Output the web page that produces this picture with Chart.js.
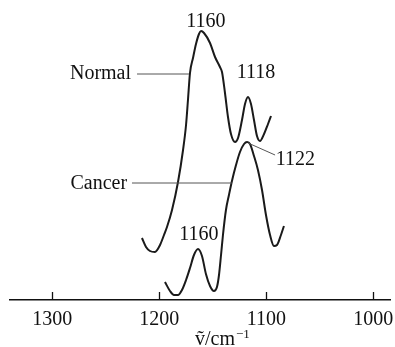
<!DOCTYPE html>
<html>
<head>
<meta charset="utf-8">
<script src="https://cdn.jsdelivr.net/npm/chart.js@4/dist/chart.umd.min.js"></script>
<style>
  html, body { margin: 0; padding: 0; background: #fff; }
  #wrap { width: 395px; height: 347px; }
</style>
</head>
<body>
<div id="wrap"><canvas id="ir"></canvas></div>
<script>
/* DATA (wavenumber cm-1, relative absorbance) */
const tickValues = [1300, 1200, 1100, 1000];

const normalWn = [1216.2, 1212.4, 1208.7, 1204.0, 1199.3, 1195.6, 1192.8, 1188.1, 1182.5, 1177.8,
  1175.0, 1173.2, 1171.3, 1168.5, 1165.7, 1162.9, 1161.0, 1158.2, 1152.6, 1147.9,
  1143.3, 1141.4, 1138.6, 1135.8, 1133.0, 1129.2, 1126.4, 1122.7, 1119.9, 1117.1,
  1114.3, 1111.5, 1108.7, 1105.9, 1102.1, 1098.4, 1095.6];
const normalAbs = [62, 53, 49, 48, 55, 65, 73, 90, 118, 150,
  175, 200, 227, 242, 256, 266, 269, 267, 257, 243,
  233, 228, 207, 183, 166, 158, 162, 180, 196, 203,
  196, 180, 164, 159, 166, 176, 184];

const cancerWn = [1194.7, 1190.0, 1186.3, 1182.5, 1178.8, 1175.0, 1171.3, 1167.6, 1163.8, 1160.1,
  1156.4, 1152.6, 1148.9, 1146.1, 1144.2, 1142.3, 1140.5, 1137.7, 1134.9, 1132.1,
  1128.3, 1124.6, 1120.8, 1118.0, 1115.2, 1111.5, 1107.8, 1104.0, 1100.3, 1096.5,
  1092.8, 1090.0, 1086.3, 1083.5];
const cancerAbs = [18, 9, 5, 5, 10, 20, 32, 45, 51, 44,
  26, 14, 9, 13, 25, 45, 65, 90, 105, 119,
  135, 148, 156, 158, 156, 144, 130, 110, 85, 65,
  54, 55, 65, 74];

/* LABELS: text, anchor (wn, abs), align */
const labels = [
  { text: "1160", wn: 1156.4, abs: 278, align: "center" },
  { text: "1118", wn: 1109.6, abs: 227, align: "center" },
  { text: "1122", wn: 1091.2, abs: 140, align: "left" },
  { text: "1160", wn: 1163.1, abs: 65, align: "center" },
  { text: "Normal", wn: 1226.4, abs: 226, align: "right" },
  { text: "Cancer", wn: 1230.1, abs: 116, align: "right" },
];
const leaders = [
  { from: [1220.8, 226], to: [1172.3, 226] },
  { from: [1225.5, 117], to: [1132.1, 117] },
  { from: [1117.0, 157], to: [1091.8, 145] },
];

const serif = "'Liberation Serif', 'DejaVu Serif', serif";
const toXY = (wn, ab) => wn.map((w, i) => ({ x: w, y: ab[i] }));

/* PLUGIN: inward ticks, peak labels, axis title */
const decor = {
  id: "decor",
  afterDraw(chart) {
    const ctx = chart.ctx;
    const xs = chart.scales.x, ys = chart.scales.y;
    const bottom = chart.chartArea.bottom;
    ctx.save();
    ctx.strokeStyle = "#111";
    ctx.lineWidth = 1.3;
    tickValues.forEach((v) => {
      const x = Math.round(xs.getPixelForValue(v)) + 0.5;
      ctx.beginPath();
      ctx.moveTo(x, bottom - 8);
      ctx.lineTo(x, bottom);
      ctx.stroke();
    });

    ctx.strokeStyle = "#555";
    ctx.lineWidth = 1;
    leaders.forEach((l) => {
      ctx.beginPath();
      ctx.moveTo(xs.getPixelForValue(l.from[0]), ys.getPixelForValue(l.from[1]));
      ctx.lineTo(xs.getPixelForValue(l.to[0]), ys.getPixelForValue(l.to[1]));
      ctx.stroke();
    });

    ctx.fillStyle = "#111";
    ctx.font = "20px " + serif;
    ctx.textBaseline = "middle";
    labels.forEach((l) => {
      ctx.textAlign = l.align;
      ctx.fillText(l.text, xs.getPixelForValue(l.wn), ys.getPixelForValue(l.abs));
    });

    // axis title  ṽ/cm⁻¹
    const tx = xs.getPixelForValue(1166.6);
    ctx.textAlign = "left";
    ctx.textBaseline = "alphabetic";
    ctx.font = "20px " + serif;
    const main = "\u1e7d/cm";
    ctx.fillText(main, tx, 345);
    const w = ctx.measureText(main).width;
    ctx.font = "13px " + serif;
    ctx.fillText("\u22121", tx + w + 1, 338);
    ctx.restore();
  },
};

new Chart(document.getElementById("ir"), {
  type: "line",
  data: {
    datasets: [
      { label: "Normal", data: toXY(normalWn, normalAbs) },
      { label: "Cancer", data: toXY(cancerWn, cancerAbs) },
    ],
  },
  options: {
    responsive: true,
    maintainAspectRatio: false,
    animation: false,
    layout: { padding: { left: 10, right: 5, top: 0, bottom: 0 } },
    elements: {
      line: { borderColor: "#1a1a1a", borderWidth: 2, cubicInterpolationMode: "monotone", fill: false },
      point: { radius: 0 },
    },
    plugins: { legend: { display: false }, tooltip: { enabled: false } },
    scales: {
      x: {
        type: "linear",
        reverse: true,
        min: 984.4,
        max: 1339.5,
        afterBuildTicks: (s) => { s.ticks = tickValues.map((v) => ({ value: v })); },
        afterFit: (s) => { s.height = 47; s.paddingRight = 0; s.paddingLeft = 0; },
        grid: { display: true, drawOnChartArea: false, drawTicks: false },
        border: { display: true, color: "#111", width: 1.5 },
        ticks: {
          padding: 8,
          color: "#111",
          maxRotation: 0,
          font: { family: serif, size: 20 },
          callback: (v) => String(v),
        },
      },
      y: { display: false, min: 0, max: 300 },
    },
  },
  plugins: [decor],
});
</script>
</body>
</html>
